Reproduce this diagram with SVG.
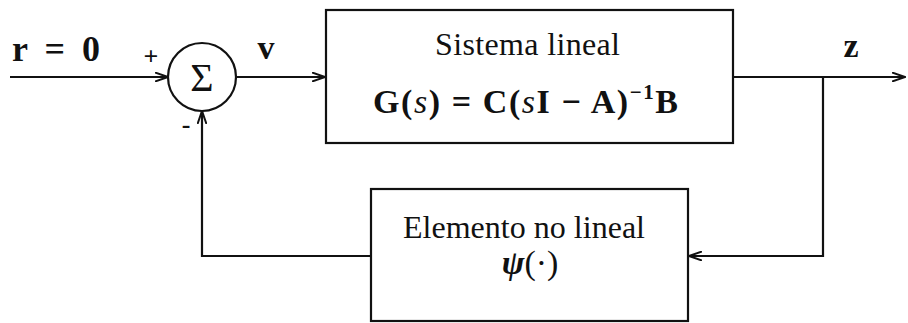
<svg xmlns="http://www.w3.org/2000/svg" width="908" height="323" viewBox="0 0 908 323">
<style>
.ln{fill:none;stroke:#111;stroke-width:2.2}
.bx{fill:#fff;stroke:#111;stroke-width:2.2}
.t{font-family:"Liberation Serif","DejaVu Serif",serif;fill:#111}
.b{font-weight:bold}
.i{font-style:italic;font-weight:normal}
</style>
<defs>
<marker id="ah" viewBox="0 0 14 10" refX="13" refY="5" markerWidth="14" markerHeight="10" markerUnits="userSpaceOnUse" orient="auto">
<path d="M0,0.5 L13,5 L0,9.5" fill="none" stroke="#111" stroke-width="2"/>
</marker>
</defs>
<g id="connectors">
<line class="ln" x1="10" y1="77" x2="168" y2="77" marker-end="url(#ah)"/>
<line class="ln" x1="236" y1="77" x2="325" y2="77" marker-end="url(#ah)"/>
<line class="ln" x1="733" y1="77" x2="905" y2="77" marker-end="url(#ah)"/>
<polyline class="ln" points="823,77 823,256 689,256" marker-end="url(#ah)"/>
<polyline class="ln" points="371,256 202,256 202,111" marker-end="url(#ah)"/>
</g>
<g id="sum">
<circle class="bx" cx="202" cy="77" r="34"/>
<text class="t" x="202" y="91" font-size="40" text-anchor="middle">Σ</text>
<text class="t b" x="151" y="65" font-size="26" text-anchor="middle">+</text>
<text class="t b" x="186" y="133" font-size="26" text-anchor="middle">-</text>
</g>
<g id="labels">
<text class="t b" x="12" y="61" font-size="36" textLength="88" lengthAdjust="spacing">r = 0</text>
<text class="t b" x="266" y="59" font-size="34" text-anchor="middle">v</text>
<text class="t b" x="851" y="57" font-size="34" text-anchor="middle">z</text>
</g>
<g id="sistema">
<rect class="bx" x="326" y="10" width="407" height="133"/>
<text class="t" x="435" y="55" font-size="32" textLength="185" lengthAdjust="spacing">Sistema lineal</text>
<text class="t b" x="373" y="113" font-size="34" textLength="305" lengthAdjust="spacing">G(<tspan class="i">s</tspan>) = C(<tspan class="i">s</tspan>I − A)<tspan font-size="21" dy="-14">−1</tspan><tspan dy="14">B</tspan></text>
</g>
<g id="no-lineal">
<rect class="bx" x="371" y="189" width="317" height="132"/>
<text class="t" x="403" y="238" font-size="32" textLength="242" lengthAdjust="spacing">Elemento no lineal</text>
<text class="t" x="530" y="274" font-size="34" text-anchor="middle"><tspan font-weight="bold" font-style="italic">ψ</tspan>(·)</text>
</g>
</svg>
